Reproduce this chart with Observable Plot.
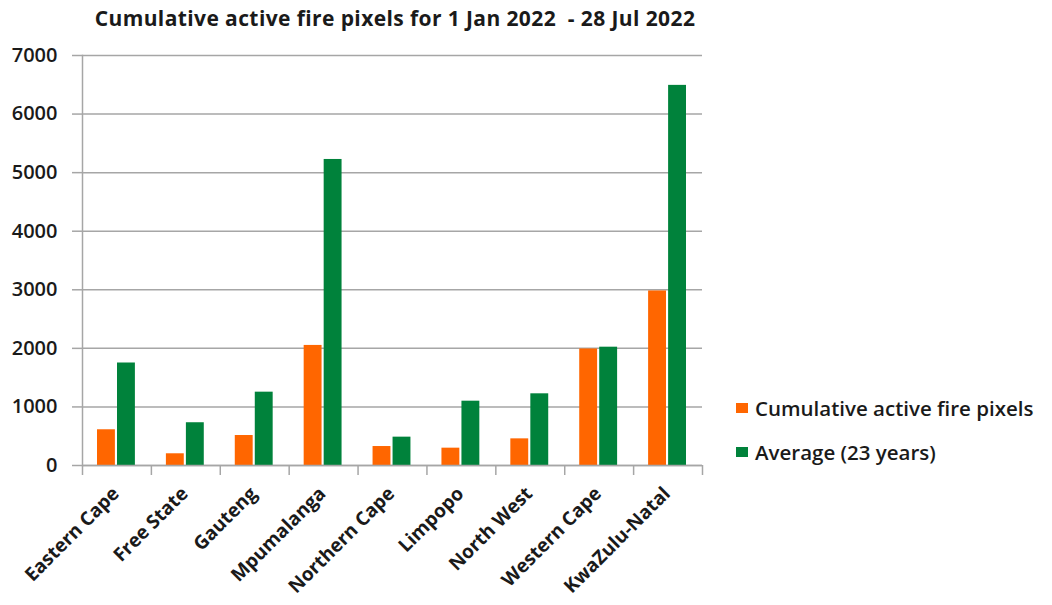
<!DOCTYPE html>
<html>
<head>
<meta charset="utf-8">
<script src="https://cdn.jsdelivr.net/npm/d3@7"></script>
<script src="https://cdn.jsdelivr.net/npm/@observablehq/plot@0.6"></script>
<style>
  body { margin: 0; background: #fff; }
  #wrap { position: relative; width: 1052px; height: 605px; font-family: "Open Sans", sans-serif; color: #1a1a1a; overflow: hidden; }
  #title { height: 36px; width: 790px; text-align: center; font-weight: 700; font-size: 21px; letter-spacing: 0.4px; line-height: 36px; white-space: pre; }
  #legend { position: absolute; left: 736px; top: 396px; font-size: 20.5px; font-weight: 600; }
  .item { display: flex; align-items: center; height: 24px; margin-bottom: 20px; white-space: nowrap; }
  .sw { width: 12px; height: 10px; margin-right: 7px; flex: none; }
</style>
</head>
<body>
<div id="wrap">
  <div id="title"></div>
  <div id="chart"></div>
  <div id="legend"></div>
</div>
<script>
const titleText = "Cumulative active fire pixels for 1 Jan 2022  - 28 Jul 2022";
const provinces = ["Eastern Cape", "Free State", "Gauteng", "Mpumalanga", "Northern Cape", "Limpopo", "North West", "Western Cape", "KwaZulu-Natal"];
const cumulative = [610, 200, 512, 2050, 324, 296, 455, 1990, 2980];
const average = [1750, 730, 1252, 5225, 484, 1098, 1224, 2020, 6490];
const seriesNames = ["Cumulative active fire pixels", "Average (23 years)"];
const seriesColors = ["#ff6600", "#00823b"];
const yTicks = [0, 1000, 2000, 3000, 4000, 5000, 6000, 7000];

document.getElementById("title").textContent = titleText;

const grey = "#a6a6a6";
const W = 1052, H = 569, mL = 82, mR = 350, mT = 19, mB = 140;
const step = (W - mL - mR) / provinces.length;

const chart = Plot.plot({
  width: W, height: H,
  marginLeft: mL, marginRight: mR, marginTop: mT, marginBottom: mB,
  style: { fontFamily: "Open Sans, sans-serif", fontSize: "20px", fontWeight: 600, color: "#1a1a1a", background: "#fff" },
  x: { domain: provinces, padding: 0, round: false, axis: null },
  y: { domain: [0, 7000], axis: null },
  marks: [
    Plot.gridY(yTicks, { stroke: grey, strokeOpacity: 1, strokeWidth: 1.5 }),
    Plot.frame({ anchor: "left", stroke: grey, strokeWidth: 1.5 }),
    Plot.barY(provinces, { x: d => d, y: (d, i) => cumulative[i], fill: seriesColors[0], insetLeft: 15, insetRight: 36 }),
    Plot.barY(provinces, { x: d => d, y: (d, i) => average[i], fill: seriesColors[1], insetLeft: 35, insetRight: 16 }),
    Plot.ruleY([0], { stroke: grey, strokeWidth: 1.5 }),
    Plot.ruleX(provinces, { x: d => d, y1: 0, y2: 0, insetBottom: -10, dx: -step / 2, stroke: grey, strokeWidth: 1.5 }),
    Plot.ruleX([provinces[provinces.length - 1]], { x: d => d, y1: 0, y2: 0, insetBottom: -10, dx: step / 2, stroke: grey, strokeWidth: 1.5 }),
    Plot.axisY({ ticks: yTicks, tickSize: 10, text: null, stroke: grey, strokeWidth: 1.5 }),
    Plot.axisY({ ticks: yTicks, tickSize: 0, tickPadding: 25, tickFormat: d => String(d), fill: "#1a1a1a" }),
    Plot.axisX({ tickSize: 0, tickPadding: 25, dx: -1, tickRotate: -45, fill: "#1a1a1a", fontSize: 19, fontWeight: 700 })
  ]
});
document.getElementById("chart").appendChild(chart);

const legend = document.getElementById("legend");
seriesNames.forEach((name, i) => {
  const item = document.createElement("div");
  item.className = "item";
  const sw = document.createElement("span");
  sw.className = "sw";
  sw.style.background = seriesColors[i];
  const label = document.createElement("span");
  label.textContent = name;
  item.appendChild(sw); item.appendChild(label);
  legend.appendChild(item);
});
</script>
</body>
</html>
